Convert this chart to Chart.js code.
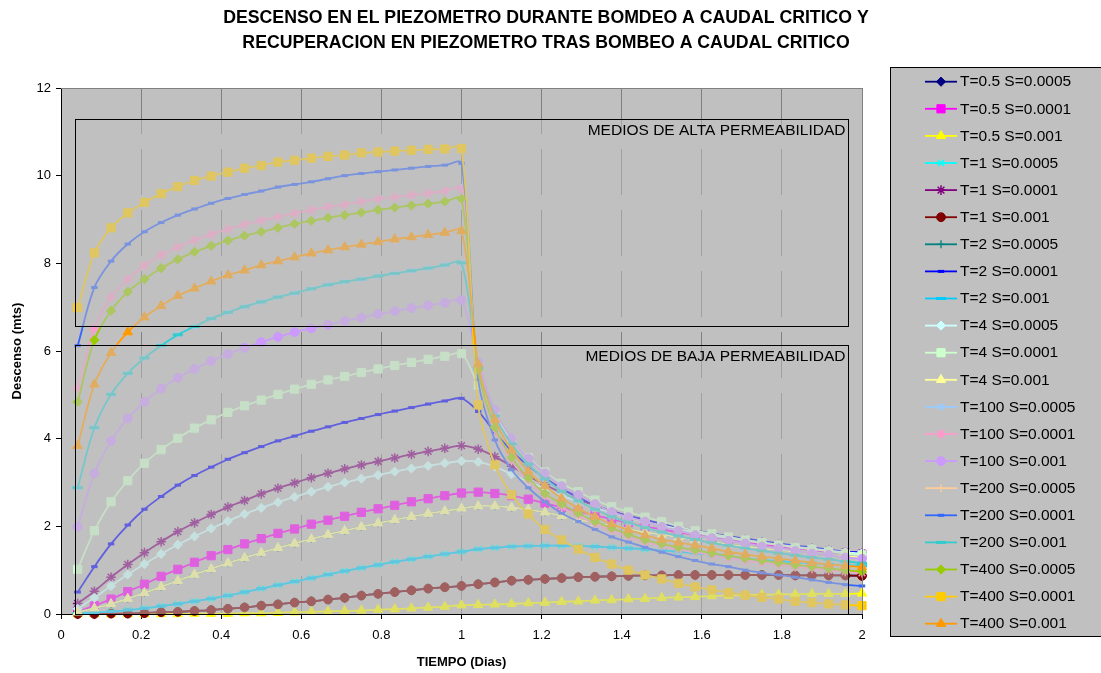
<!DOCTYPE html>
<html>
<head>
<meta charset="utf-8">
<script src="https://cdn.jsdelivr.net/npm/chart.js@4.4.1/dist/chart.umd.min.js"></script>
<style>
  html, body { margin: 0; padding: 0; background: #ffffff; }
  canvas { display: block; }
</style>
</head>
<body>
<canvas id="grafico" width="1101" height="673"></canvas>
<script>
// Tiempo en días (lecturas horarias, 1 día de bombeo + 1 día de recuperación)
const tiempo = [0.0417, 0.0833, 0.125, 0.1667, 0.2083, 0.25, 0.2917, 0.3333, 0.375, 0.4167, 0.4583, 0.5,
  0.5417, 0.5833, 0.625, 0.6667, 0.7083, 0.75, 0.7917, 0.8333, 0.875, 0.9167, 0.9583, 1,
  1.0417, 1.0833, 1.125, 1.1667, 1.2083, 1.25, 1.2917, 1.3333, 1.375, 1.4167, 1.4583, 1.5,
  1.5417, 1.5833, 1.625, 1.6667, 1.7083, 1.75, 1.7917, 1.8333, 1.875, 1.9167, 1.9583, 2];

const ticksX = ['0', '0.2', '0.4', '0.6', '0.8', '1', '1.2', '1.4', '1.6', '1.8', '2'];
const ticksY = ['0', '2', '4', '6', '8', '10', '12'];

// Descensos (m). Series con la misma relación S/T dan la misma curva.
const d_T05_S001 = [0, 0, 0, 0, 0, 0, 0, 0.01, 0.01, 0.01, 0.02, 0.02, 0.03, 0.04, 0.05, 0.06, 0.07, 0.08, 0.10, 0.11, 0.13, 0.15, 0.17, 0.20,
  0.21, 0.22, 0.23, 0.25, 0.26, 0.28, 0.29, 0.31, 0.32, 0.34, 0.35, 0.37, 0.38, 0.39, 0.41, 0.42, 0.43, 0.44, 0.45, 0.45, 0.46, 0.46, 0.46, 0.47];
const d_T1_S001 = [0.00, 0.00, 0.01, 0.01, 0.02, 0.04, 0.05, 0.07, 0.09, 0.12, 0.15, 0.19, 0.22, 0.26, 0.29, 0.33, 0.37, 0.42, 0.46, 0.50, 0.54, 0.58, 0.61, 0.64,
  0.68, 0.72, 0.76, 0.78, 0.80, 0.82, 0.84, 0.85, 0.86, 0.87, 0.88, 0.88, 0.89, 0.89, 0.89, 0.89, 0.89, 0.89, 0.89, 0.88, 0.88, 0.88, 0.88, 0.87];
const d_T05_S00005 = d_T1_S001;
const d_T1_S00005 = [0.01, 0.03, 0.06, 0.09, 0.13, 0.18, 0.23, 0.29, 0.35, 0.42, 0.50, 0.58, 0.66, 0.74, 0.82, 0.90, 0.98, 1.05, 1.12, 1.19, 1.25, 1.31, 1.37, 1.42,
  1.48, 1.51, 1.54, 1.55, 1.56, 1.56, 1.55, 1.54, 1.52, 1.50, 1.48, 1.45, 1.42, 1.39, 1.35, 1.31, 1.27, 1.23, 1.21, 1.18, 1.16, 1.13, 1.11, 1.10];
const d_T2_S001 = d_T1_S00005;
const d_T4_S001 = [0.04, 0.13, 0.23, 0.35, 0.48, 0.62, 0.76, 0.90, 1.03, 1.16, 1.28, 1.40, 1.51, 1.61, 1.71, 1.81, 1.90, 1.99, 2.07, 2.15, 2.22, 2.29, 2.35, 2.41,
  2.46, 2.46, 2.43, 2.38, 2.32, 2.24, 2.16, 2.08, 2.01, 1.94, 1.87, 1.81, 1.75, 1.69, 1.64, 1.59, 1.54, 1.50, 1.46, 1.42, 1.38, 1.35, 1.32, 1.29];
const d_T2_S00005 = d_T4_S001;
const d_T05_S00001 = [0.06, 0.19, 0.34, 0.51, 0.68, 0.86, 1.02, 1.18, 1.33, 1.47, 1.60, 1.72, 1.84, 1.94, 2.05, 2.14, 2.23, 2.32, 2.40, 2.48, 2.56, 2.63, 2.70, 2.76,
  2.78, 2.75, 2.70, 2.62, 2.53, 2.43, 2.34, 2.25, 2.16, 2.08, 2.00, 1.93, 1.86, 1.80, 1.74, 1.68, 1.63, 1.58, 1.54, 1.50, 1.46, 1.42, 1.39, 1.36];
const d_T4_S00005 = [0.12, 0.37, 0.64, 0.90, 1.14, 1.37, 1.58, 1.77, 1.95, 2.12, 2.28, 2.42, 2.55, 2.67, 2.79, 2.90, 3.00, 3.09, 3.17, 3.25, 3.32, 3.38, 3.44, 3.49,
  3.47, 3.36, 3.19, 3.02, 2.86, 2.70, 2.56, 2.43, 2.31, 2.20, 2.10, 2.02, 1.94, 1.87, 1.80, 1.74, 1.68, 1.63, 1.58, 1.53, 1.49, 1.45, 1.41, 1.38];
const d_T1_S00001 = [0.24, 0.52, 0.84, 1.13, 1.40, 1.65, 1.88, 2.08, 2.27, 2.44, 2.59, 2.74, 2.87, 2.99, 3.11, 3.21, 3.31, 3.40, 3.48, 3.56, 3.64, 3.71, 3.78, 3.84,
  3.76, 3.59, 3.37, 3.15, 2.95, 2.77, 2.61, 2.47, 2.35, 2.24, 2.14, 2.05, 1.97, 1.89, 1.82, 1.76, 1.70, 1.64, 1.59, 1.54, 1.50, 1.46, 1.42, 1.39];
const d_T2_S00001 = [0.50, 1.08, 1.60, 2.03, 2.39, 2.68, 2.94, 3.16, 3.35, 3.53, 3.68, 3.82, 3.95, 4.06, 4.17, 4.27, 4.37, 4.46, 4.55, 4.63, 4.71, 4.79, 4.86, 4.92,
  4.62, 4.15, 3.72, 3.38, 3.10, 2.86, 2.66, 2.49, 2.35, 2.24, 2.15, 2.06, 1.98, 1.91, 1.84, 1.78, 1.72, 1.66, 1.61, 1.56, 1.52, 1.47, 1.43, 1.40];
const d_T4_S00001 = [1.02, 1.90, 2.56, 3.04, 3.44, 3.75, 4.01, 4.24, 4.43, 4.60, 4.75, 4.88, 5.01, 5.13, 5.24, 5.34, 5.42, 5.51, 5.59, 5.67, 5.74, 5.81, 5.88, 5.94,
  5.22, 4.55, 3.98, 3.57, 3.24, 2.98, 2.79, 2.60, 2.45, 2.33, 2.21, 2.11, 2.00, 1.90, 1.83, 1.76, 1.69, 1.63, 1.57, 1.52, 1.48, 1.43, 1.38, 1.35];
const d_T100_S001 = [1.99, 3.21, 3.95, 4.46, 4.84, 5.14, 5.39, 5.59, 5.77, 5.93, 6.07, 6.20, 6.32, 6.43, 6.52, 6.60, 6.68, 6.76, 6.84, 6.91, 6.98, 7.04, 7.10, 7.16,
  5.75, 4.65, 4.01, 3.55, 3.21, 2.92, 2.72, 2.51, 2.33, 2.21, 2.11, 1.99, 1.90, 1.80, 1.73, 1.67, 1.61, 1.54, 1.50, 1.44, 1.38, 1.35, 1.29, 1.26];
const d_T200_S001 = [2.88, 4.25, 5.01, 5.49, 5.84, 6.12, 6.37, 6.56, 6.74, 6.88, 7.01, 7.12, 7.23, 7.32, 7.42, 7.51, 7.58, 7.64, 7.71, 7.77, 7.83, 7.89, 7.96, 8.01,
  5.62, 4.52, 3.88, 3.42, 3.08, 2.80, 2.58, 2.39, 2.22, 2.09, 1.97, 1.87, 1.78, 1.70, 1.62, 1.56, 1.50, 1.44, 1.39, 1.34, 1.29, 1.25, 1.20, 1.16];
const d_T100_S00005 = d_T200_S001;
const d_T400_S001 = [3.84, 5.24, 5.96, 6.43, 6.77, 7.03, 7.26, 7.43, 7.59, 7.73, 7.84, 7.96, 8.05, 8.14, 8.23, 8.30, 8.37, 8.43, 8.49, 8.55, 8.60, 8.65, 8.70, 8.74,
  5.70, 4.43, 3.74, 3.25, 2.92, 2.64, 2.41, 2.22, 2.05, 1.92, 1.80, 1.70, 1.63, 1.57, 1.50, 1.42, 1.36, 1.31, 1.27, 1.22, 1.17, 1.13, 1.10, 1.07];
const d_T200_S00005 = d_T400_S001;
const d_T400_S00005 = [4.84, 6.25, 6.92, 7.35, 7.64, 7.89, 8.09, 8.26, 8.40, 8.52, 8.63, 8.72, 8.81, 8.90, 8.97, 9.04, 9.10, 9.16, 9.22, 9.27, 9.32, 9.36, 9.41, 9.47,
  5.57, 4.26, 3.57, 3.10, 2.75, 2.51, 2.30, 2.11, 1.96, 1.82, 1.69, 1.60, 1.52, 1.46, 1.39, 1.33, 1.27, 1.22, 1.17, 1.12, 1.08, 1.04, 1.00, 0.97];
const d_T100_S00001 = [5.15, 6.52, 7.23, 7.64, 7.95, 8.19, 8.37, 8.53, 8.66, 8.78, 8.89, 8.98, 9.06, 9.14, 9.22, 9.29, 9.34, 9.41, 9.47, 9.51, 9.56, 9.60, 9.65, 9.70,
  5.55, 4.20, 3.50, 3.03, 2.68, 2.44, 2.24, 2.05, 1.90, 1.76, 1.64, 1.55, 1.47, 1.41, 1.34, 1.28, 1.22, 1.17, 1.12, 1.08, 1.04, 1.00, 0.97, 0.94];
const d_T200_S00001 = [6.12, 7.45, 8.05, 8.44, 8.72, 8.93, 9.10, 9.24, 9.37, 9.48, 9.57, 9.65, 9.74, 9.80, 9.86, 9.93, 10.00, 10.05, 10.09, 10.13, 10.17, 10.21, 10.24, 10.28,
  5.35, 3.97, 3.29, 2.88, 2.56, 2.30, 2.11, 1.93, 1.76, 1.64, 1.52, 1.41, 1.31, 1.22, 1.14, 1.08, 1.00, 0.94, 0.89, 0.84, 0.78, 0.72, 0.67, 0.64];
const d_T400_S00001 = [6.99, 8.24, 8.81, 9.15, 9.39, 9.59, 9.75, 9.89, 9.99, 10.08, 10.17, 10.23, 10.31, 10.35, 10.40, 10.44, 10.47, 10.52, 10.54, 10.56, 10.58, 10.60, 10.61, 10.62,
  4.77, 3.40, 2.72, 2.28, 1.93, 1.69, 1.48, 1.29, 1.14, 1.00, 0.89, 0.80, 0.70, 0.62, 0.55, 0.49, 0.43, 0.38, 0.34, 0.29, 0.26, 0.23, 0.21, 0.19];

const nombres = ['T=0.5 S=0.0005', 'T=0.5 S=0.0001', 'T=0.5 S=0.001', 'T=1 S=0.0005', 'T=1 S=0.0001', 'T=1 S=0.001',
  'T=2 S=0.0005', 'T=2 S=0.0001', 'T=2 S=0.001', 'T=4 S=0.0005', 'T=4 S=0.0001', 'T=4 S=0.001',
  'T=100 S=0.0005', 'T=100 S=0.0001', 'T=100 S=0.001', 'T=200 S=0.0005', 'T=200 S=0.0001', 'T=200 S=0.001',
  'T=400 S=0.0005', 'T=400 S=0.0001', 'T=400 S=0.001'];
const valores = [d_T05_S00005, d_T05_S00001, d_T05_S001, d_T1_S00005, d_T1_S00001, d_T1_S001,
  d_T2_S00005, d_T2_S00001, d_T2_S001, d_T4_S00005, d_T4_S00001, d_T4_S001,
  d_T100_S00005, d_T100_S00001, d_T100_S001, d_T200_S00005, d_T200_S00001, d_T200_S001,
  d_T400_S00005, d_T400_S00001, d_T400_S001];

// Estilo de cada serie: color, tipo de marcador, radio y grosor del marcador
const estilos = [
  ['#000080', 'rectRot', 4.6, 1], ['#FF00FF', 'rect', 5.8, 1], ['#FFFF00', 'triangle', 5.4, 1],
  ['#00FFFF', 'crossRot', 4.2, 1.6], ['#800080', 'star', 4.8, 1.5], ['#800000', 'circle', 4.4, 1],
  ['#008080', 'cross', 4, 1.3], ['#0000FF', 'line', 3.2, 3], ['#00CCFF', 'line', 5, 3],
  ['#CCFFFF', 'rectRot', 4.6, 1], ['#CCFFCC', 'rect', 5.8, 1], ['#FFFF99', 'triangle', 5.4, 1],
  ['#99CCFF', 'crossRot', 4.2, 1.6], ['#FF99CC', 'star', 4.8, 1.5], ['#CC99FF', 'circle', 4.4, 1],
  ['#FFCC99', 'cross', 4, 1.3], ['#3366FF', 'line', 3.2, 3], ['#33CCCC', 'line', 5, 3],
  ['#99CC00', 'rectRot', 4.6, 1], ['#FFCC00', 'rect', 5.8, 1], ['#FF9900', 'triangle', 5.4, 1]
];

const FUENTE = '"Liberation Sans", Arial, sans-serif';

const datasets = nombres.map((nombre, i) => {
  const [color, marca, radio, grosor] = estilos[i];
  return {
    label: nombre,
    data: valores[i].map((v, k) => ({ x: tiempo[k], y: v })),
    borderColor: color,
    backgroundColor: color,
    borderWidth: 1.8,
    tension: 0.33,
    pointStyle: marca,
    pointRadius: radio,
    pointBorderWidth: grosor,
    pointBackgroundColor: color,
    pointBorderColor: color,
    clip: false,
    order: nombres.length - i
  };
});

// Recuadros translúcidos con su rótulo, en coordenadas de los ejes
const recuadros = [
  { x0: 0.034, x1: 1.966, y0: 6.57, y1: 11.29, texto: 'MEDIOS DE ALTA PERMEABILIDAD' },
  { x0: 0.034, x1: 1.966, y0: -0.01, y1: 6.14, texto: 'MEDIOS DE BAJA PERMEABILIDAD' }
];

const decorado = {
  id: 'decorado',
  beforeDraw(chart) {
    const { ctx, chartArea: a } = chart;
    ctx.save();
    ctx.fillStyle = '#C0C0C0';
    ctx.fillRect(a.left, a.top, a.right - a.left, a.bottom - a.top);
    ctx.restore();
  },
  afterDatasetsDraw(chart) {
    const { ctx, chartArea: a, scales } = chart;
    const sx = scales.x, sy = scales.y;
    ctx.save();
    // borde superior y derecho del área de trazado
    ctx.strokeStyle = '#808080';
    ctx.lineWidth = 1;
    ctx.beginPath();
    ctx.moveTo(a.left, a.top + 0.5);
    ctx.lineTo(a.right + 0.5, a.top + 0.5);
    ctx.lineTo(a.right + 0.5, a.bottom);
    ctx.stroke();
    recuadros.forEach(r => {
      const L = Math.round(sx.getPixelForValue(r.x0)) + 0.5;
      const R = Math.round(sx.getPixelForValue(r.x1)) + 0.5;
      const T = Math.round(sy.getPixelForValue(r.y1)) + 0.5;
      const B = Math.round(sy.getPixelForValue(r.y0)) + 0.5;
      ctx.fillStyle = 'rgba(192,192,192,0.5)';
      ctx.fillRect(L, T, R - L, B - T);
      ctx.strokeStyle = '#000000';
      ctx.lineWidth = 1;
      ctx.strokeRect(L, T, R - L, B - T);
      ctx.fillStyle = '#000000';
      ctx.font = '15.5px ' + FUENTE;
      ctx.textAlign = 'right';
      ctx.textBaseline = 'middle';
      ctx.fillText(r.texto, R - 3, T + 11);
    });
    ctx.restore();
  },
  afterDraw(chart) {
    const { ctx } = chart;
    ctx.save();
    // título
    ctx.fillStyle = '#000000';
    ctx.font = 'bold 17.7px ' + FUENTE;
    ctx.textAlign = 'center';
    ctx.textBaseline = 'middle';
    ctx.fillText('DESCENSO EN EL PIEZOMETRO DURANTE BOMDEO A CAUDAL CRITICO Y', 546, 18);
    ctx.fillText('RECUPERACION EN PIEZOMETRO TRAS BOMBEO A CAUDAL CRITICO', 546, 43);

    // leyenda
    const lx = 890.5, ly = 67.5, lw = 240, lh = 569;
    ctx.fillStyle = '#C0C0C0';
    ctx.fillRect(lx, ly, lw, lh);
    ctx.strokeStyle = '#000000';
    ctx.lineWidth = 1;
    ctx.strokeRect(lx, ly, lw, lh);
    ctx.font = '15.5px ' + FUENTE;
    ctx.textAlign = 'left';
    ctx.textBaseline = 'middle';
    chart.data.datasets.forEach((ds, i) => {
      const y = 81.7 + i * 27.1;
      ctx.strokeStyle = ds.borderColor;
      ctx.lineWidth = 1.8;
      ctx.beginPath();
      ctx.moveTo(925, y);
      ctx.lineTo(957, y);
      ctx.stroke();
      ctx.fillStyle = ds.pointBackgroundColor;
      ctx.strokeStyle = ds.pointBorderColor;
      ctx.lineWidth = ds.pointBorderWidth;
      Chart.helpers.drawPoint(ctx, { pointStyle: ds.pointStyle, radius: ds.pointRadius, borderWidth: ds.pointBorderWidth, rotation: 0 }, 941, y);
      ctx.fillStyle = '#000000';
      ctx.fillText(ds.label, 960, y + 0.5);
    });
    ctx.restore();
  }
};

new Chart(document.getElementById('grafico'), {
  type: 'line',
  data: { datasets },
  options: {
    responsive: false,
    animation: false,
    devicePixelRatio: 1,
    layout: { padding: { left: 0, right: 239, top: 88, bottom: 0 }, autoPadding: false },
    plugins: { legend: { display: false }, tooltip: { enabled: false }, title: { display: false } },
    events: [],
    scales: {
      x: {
        type: 'linear', min: 0, max: 2,
        afterFit(s) { s.height = 59; },
        ticks: {
          stepSize: 0.2, padding: 9, color: '#000000', font: { family: FUENTE, size: 13 },
          maxRotation: 0, autoSkip: false,
          callback: (v, i) => ticksX[i]
        },
        grid: { color: '#808080', lineWidth: 1, drawTicks: true, tickLength: 5, tickColor: '#000000' },
        border: { color: '#000000', width: 1, dash: [46, 15] },
        title: { display: true, text: 'TIEMPO (Dias)', color: '#000000', font: { family: FUENTE, size: 13, weight: 'bold' }, padding: { top: 0, bottom: 3 } }
      },
      y: {
        type: 'linear', min: 0, max: 12,
        afterFit(s) { s.width = 61; },
        ticks: {
          stepSize: 2, padding: 5, color: '#000000', font: { family: FUENTE, size: 13 },
          callback: (v, i) => ticksY[i]
        },
        grid: { drawOnChartArea: false, drawTicks: true, tickLength: 5, tickColor: '#000000' },
        border: { color: '#000000', width: 1 },
        title: { display: true, text: 'Descenso (mts)', color: '#000000', font: { family: FUENTE, size: 13, weight: 'bold' }, padding: { top: 10, bottom: 0 } }
      }
    }
  },
  plugins: [decorado]
});
</script>
</body>
</html>
